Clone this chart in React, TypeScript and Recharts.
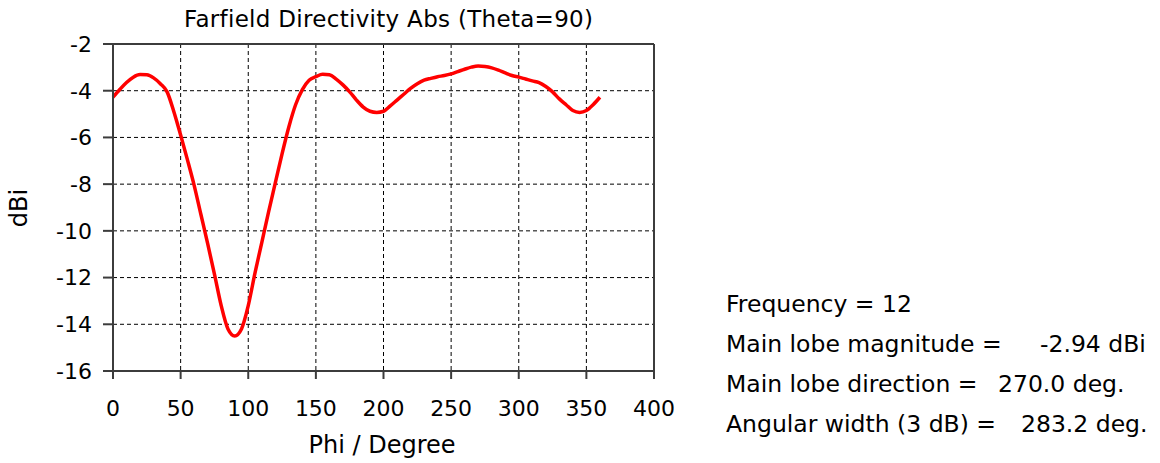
import { LineChart, Line, XAxis, YAxis, CartesianGrid, ReferenceLine } from 'recharts'

const FONT = '"DejaVu Sans", Verdana, sans-serif'

// farfield cut at theta = 90, 5 degree steps
const PHI = [
  0, 5, 10, 15, 20, 25, 30, 35, 40, 45, 50, 55, 60, 65, 70, 75, 80, 85, 90, 95,
  100, 105, 110, 115, 120, 125, 130, 135, 140, 145, 150, 155, 160, 165, 170, 175, 180, 185, 190, 195,
  200, 205, 210, 215, 220, 225, 230, 235, 240, 245, 250, 255, 260, 265, 270, 275, 280, 285, 290, 295,
  300, 305, 310, 315, 320, 325, 330, 335, 340, 345, 350, 355, 360,
]
const DBI = [
  -4.28, -3.95, -3.65, -3.42, -3.31, -3.32, -3.45, -3.7, -4.05, -4.9, -5.9, -6.95, -8.05, -9.3, -10.55, -11.85, -13.2, -14.2, -14.5, -14.2,
  -13.2, -11.8, -10.5, -9.2, -7.95, -6.7, -5.55, -4.6, -3.95, -3.55, -3.4, -3.3, -3.32, -3.5, -3.75, -4.05, -4.4, -4.7, -4.88, -4.93,
  -4.88, -4.65, -4.4, -4.15, -3.9, -3.7, -3.55, -3.47, -3.4, -3.35, -3.28, -3.18, -3.08, -2.99, -2.94, -2.96, -3.02, -3.12, -3.24, -3.35,
  -3.42, -3.5, -3.58, -3.65, -3.82, -4.05, -4.35, -4.6, -4.85, -4.93, -4.85, -4.6, -4.28,
]

const X_TICKS = [0, 50, 100, 150, 200, 250, 300, 350, 400]
const Y_TICKS = [-16, -14, -12, -10, -8, -6, -4, -2]

const INFO_LABELS = ['Frequency = 12', 'Main lobe magnitude =', 'Main lobe direction =', 'Angular width (3 dB) =']
const INFO_VALUES = ['', '-2.94 dBi', '270.0 deg.', '283.2 deg.']
const INFO_VALUE_X = [0, 1040, 998, 1021]

const data = PHI.map((phi, i) => ({ phi, dbi: DBI[i] }))

const tickStyle = { fill: '#000', fontSize: 22, fontFamily: FONT }

export default function App() {
  return (
    <div style={{ position: 'absolute', left: 0, top: 0, width: 1160, height: 463, background: '#fff', fontFamily: FONT, color: '#000' }}>
      <LineChart width={700} height={463} data={data} margin={{ top: 44, right: 46, left: 13, bottom: 32 }}>
        <CartesianGrid stroke="#000" strokeDasharray="4 3" horizontal vertical />
        <XAxis
          dataKey="phi"
          type="number"
          domain={[0, 400]}
          ticks={X_TICKS}
          height={60}
          tick={tickStyle}
          tickSize={8}
          tickMargin={21}
          axisLine={{ stroke: '#3c3c3c', strokeWidth: 2 }}
          tickLine={{ stroke: '#3c3c3c', strokeWidth: 2 }}
        />
        <YAxis
          type="number"
          domain={[-16, -2]}
          ticks={Y_TICKS}
          width={100}
          tick={tickStyle}
          tickSize={10}
          tickMargin={11}
          axisLine={{ stroke: '#3c3c3c', strokeWidth: 2 }}
          tickLine={{ stroke: '#3c3c3c', strokeWidth: 2 }}
        />
        <ReferenceLine y={-2} stroke="#3c3c3c" strokeWidth={2} />
        <ReferenceLine x={400} stroke="#3c3c3c" strokeWidth={2} />
        <Line
          dataKey="dbi"
          type="monotone"
          stroke="#ff0000"
          strokeWidth={3.5}
          dot={false}
          activeDot={false}
          isAnimationActive={false}
        />
      </LineChart>

      <div style={{ position: 'absolute', left: 184, width: 400, top: 7.8, fontSize: 23, lineHeight: '23px', letterSpacing: 0.3, textAlign: 'center', whiteSpace: 'nowrap' }}>
        Farfield Directivity Abs (Theta=90)
      </div>
      <div style={{ position: 'absolute', left: 282, width: 200, top: 432.7, fontSize: 24, lineHeight: '24px', textAlign: 'center', whiteSpace: 'nowrap' }}>
        Phi / Degree
      </div>
      <div style={{ position: 'absolute', left: 18.7 - 30, top: 208 - 12, width: 60, fontSize: 24, lineHeight: '24px', textAlign: 'center', transform: 'rotate(-90deg)' }}>
        dBi
      </div>

      {INFO_LABELS.map((label, i) => (
        <div key={label} style={{ position: 'absolute', left: 726, top: 293.1 + i * 40, fontSize: 23.5, lineHeight: '23.5px', whiteSpace: 'pre' }}>
          {label}
        </div>
      ))}
      {INFO_VALUES.map((value, i) =>
        value ? (
          <div key={value} style={{ position: 'absolute', left: INFO_VALUE_X[i], top: 293.1 + i * 40, fontSize: 23.5, lineHeight: '23.5px', whiteSpace: 'pre' }}>
            {value}
          </div>
        ) : null
      )}
    </div>
  )
}
